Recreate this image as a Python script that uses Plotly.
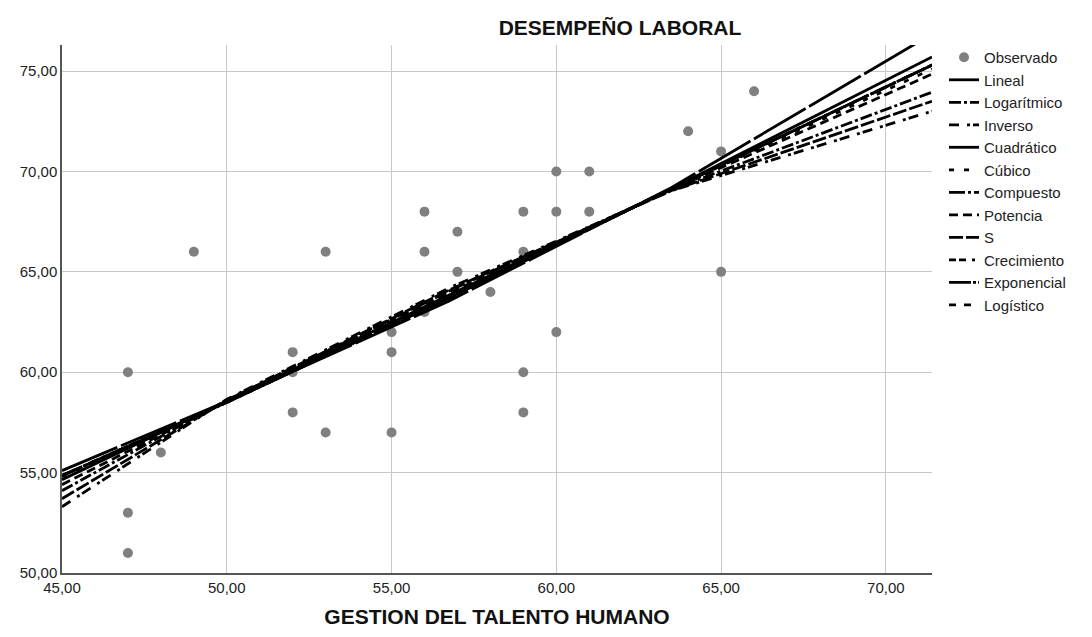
import plotly.graph_objects as go

# Observed data (GESTION DEL TALENTO HUMANO vs DESEMPEÑO LABORAL)
obs_x = [47, 47, 47, 48, 49, 52, 52, 52, 53, 53, 55, 55, 55, 56, 56, 56,
         57, 57, 58, 59, 59, 59, 59, 60, 60, 60, 61, 61, 64, 65, 65, 66]
obs_y = [60, 53, 51, 56, 66, 61, 60, 58, 66, 57, 62, 61, 57, 68, 66, 63,
         67, 65, 64, 68, 66, 60, 58, 70, 68, 62, 70, 68, 72, 71, 65, 74]

# Fitted curves, values at these x positions
fit_x = [45, 50, 56.75, 63.5, 71.4]
lineal = [54.65, 58.55, 63.85, 69.15, 75.70]
logaritmico = [54.10, 58.60, 64.05, 69.10, 73.95]
inverso = [53.30, 58.65, 64.20, 69.05, 73.00]
cuadratico = [55.10, 58.55, 63.55, 69.20, 76.85]
cubico = [54.80, 58.55, 63.80, 69.15, 75.10]
compuesto = [54.85, 58.50, 63.70, 69.15, 75.30]
potencia = [54.40, 58.55, 63.95, 69.10, 74.85]
s_curve = [53.70, 58.60, 64.10, 69.05, 73.50]
crecimiento = [54.85, 58.50, 63.70, 69.15, 75.30]
exponencial = [54.85, 58.50, 63.70, 69.15, 75.30]
logistico = [54.85, 58.50, 63.70, 69.15, 75.30]

x_ticks = [45, 50, 55, 60, 65, 70]
y_ticks = [50, 55, 60, 65, 70, 75]

series = [
    ("Lineal", lineal, "solid"),
    ("Logarítmico", logaritmico, "12px,3px,3px,3px"),
    ("Inverso", inverso, "10px,8px,3px,3px"),
    ("Cuadrático", cuadratico, "60px,4px"),
    ("Cúbico", cubico, "5px,10px"),
    ("Compuesto", compuesto, "16px,3px,3px,3px"),
    ("Potencia", potencia, "9px,5px"),
    ("S", s_curve, "14px,3px"),
    ("Crecimiento", crecimiento, "7px,3px,7px,6px,3px,6px"),
    ("Exponencial", exponencial, "22px,2px,3px,2px"),
    ("Logístico", logistico, "7px,8px"),
]

fig = go.Figure()
fig.add_trace(go.Scatter(
    x=obs_x, y=obs_y, mode="markers", name="Observado",
    marker=dict(color="#808080", size=10, line=dict(width=0)),
))
for name, vals, dash in series:
    fig.add_trace(go.Scatter(
        x=fit_x, y=vals, mode="lines", name=name,
        line=dict(color="black", width=2.8, dash=dash),
    ))

font_family = "Liberation Sans, Arial, sans-serif"
fig.update_layout(
    width=1084, height=629,
    margin=dict(l=52, r=160, t=37, b=61),
    paper_bgcolor="white", plot_bgcolor="white",
    separators=",.",
    font=dict(family=font_family, size=15, color="#222222"),
    title=dict(text="<b>DESEMPEÑO LABORAL</b>", x=0.5646, xref="container",
               xanchor="center", y=0.968, yref="container", yanchor="middle",
               font=dict(family=font_family, size=21, color="#111111")),
    showlegend=True,
    legend=dict(x=1.0138, y=1.0075, xanchor="left", yanchor="top",
                font=dict(family=font_family, size=15, color="#222222"),
                bgcolor="rgba(0,0,0,0)", itemwidth=30),
    xaxis=dict(range=[45, 71.4], tickvals=x_ticks, tickformat=".2f",
               showgrid=True, gridcolor="#c8c8c8", gridwidth=1,
               showline=True, linecolor="#555555", linewidth=1.5,
               zeroline=False, ticks="", tickfont=dict(size=15),
               title=dict(text="<b>GESTION DEL TALENTO HUMANO</b>", standoff=15,
                          font=dict(family=font_family, size=21, color="#111111"))),
    yaxis=dict(range=[50, 76.3], tickvals=y_ticks, tickformat=".2f",
               showgrid=True, gridcolor="#c8c8c8", gridwidth=1,
               showline=True, linecolor="#555555", linewidth=1.5,
               zeroline=False, ticks="", tickfont=dict(size=15)),
)

fig.write_html("out.html")
